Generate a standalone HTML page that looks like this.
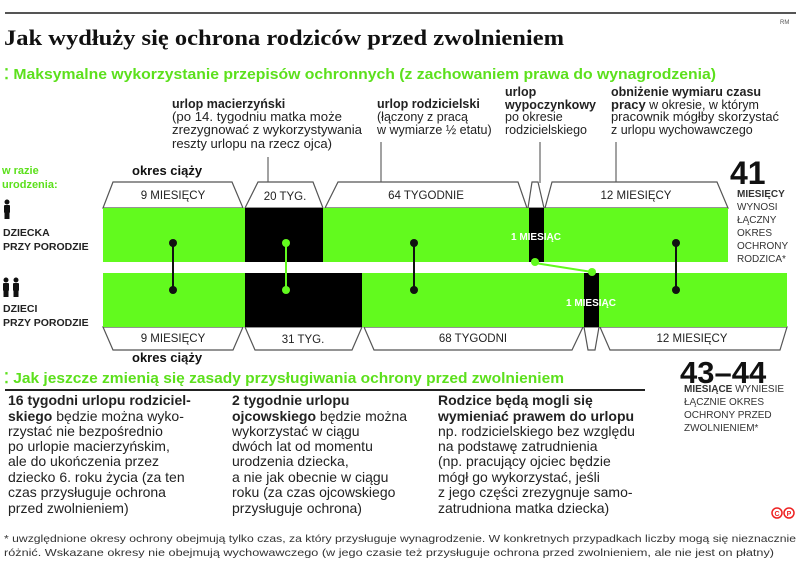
<!DOCTYPE html>
<html><head><meta charset="utf-8"><style>
html,body{margin:0;padding:0;background:#fff;}
svg{display:block;}
text{font-family:"Liberation Sans Narrow","Liberation Sans",sans-serif;}
.s{font-family:"Liberation Serif",serif;}
.b{font-weight:bold;}
.g{fill:#5ce01c;}
.lbl{font-size:12.5px;fill:#222;}
.box{fill:#fff;stroke:#555;stroke-width:1.2;}
.bt{font-size:11.5px;fill:#222;text-anchor:middle;font-family:"Liberation Sans",sans-serif;}
.col{font-size:14px;fill:#222;}
</style></head><body>
<svg width="805" height="567" viewBox="0 0 805 567" xmlns="http://www.w3.org/2000/svg">
<rect x="5" y="12" width="791" height="2" fill="#555"/>
<text x="780" y="24" font-size="6" fill="#555">RM</text>
<text x="4" y="45" class="s b" font-size="22" fill="#111" textLength="560" lengthAdjust="spacingAndGlyphs">Jak wydłuży się ochrona rodziców przed zwolnieniem</text>
<text x="4" y="79" class="b g" font-size="14.5" textLength="712" lengthAdjust="spacingAndGlyphs">⁚ Maksymalne wykorzystanie przepisów ochronnych (z zachowaniem prawa do wynagrodzenia)</text>

<text x="172" y="108" class="lbl b" font-size="13">urlop macierzyński</text>
<text x="172" y="121" class="lbl" textLength="170" lengthAdjust="spacingAndGlyphs">(po 14. tygodniu matka może</text>
<text x="172" y="134" class="lbl" textLength="190" lengthAdjust="spacingAndGlyphs">zrezygnować z wykorzystywania</text>
<text x="172" y="148" class="lbl" textLength="160" lengthAdjust="spacingAndGlyphs">reszty urlopu na rzecz ojca)</text>
<text x="377" y="108" class="lbl b" font-size="13">urlop rodzicielski</text>
<text x="377" y="121" class="lbl">(łączony z pracą</text>
<text x="377" y="134" class="lbl">w wymiarze ½ etatu)</text>
<text x="505" y="96" class="lbl b" font-size="13">urlop</text>
<text x="505" y="109" class="lbl b" font-size="13">wypoczynkowy</text>
<text x="505" y="121" class="lbl">po okresie</text>
<text x="505" y="134" class="lbl">rodzicielskiego</text>
<text x="611" y="96" class="lbl b" font-size="13">obniżenie wymiaru czasu</text>
<text x="611" y="109" class="lbl"><tspan class="b" font-size="13">pracy</tspan> w okresie, w którym</text>
<text x="611" y="121" class="lbl" textLength="168" lengthAdjust="spacingAndGlyphs">pracownik mógłby skorzystać</text>
<text x="611" y="134" class="lbl">z urlopu wychowawczego</text>
<g stroke="#444" stroke-width="1">
<line x1="268" y1="157" x2="268" y2="183"/>
<line x1="381" y1="142" x2="381" y2="183"/>
<line x1="540" y1="142" x2="540" y2="183"/>
<line x1="616" y1="142" x2="616" y2="183"/>
</g>

<text x="2" y="174" class="b g" font-size="11">w razie</text>
<text x="2" y="188" class="b g" font-size="11">urodzenia:</text>
<text x="132" y="175" class="b" font-size="13" fill="#111">okres ciąży</text>
<text x="132" y="362" class="b" font-size="13" fill="#111">okres ciąży</text>
<g fill="#111">
<circle cx="7" cy="202" r="2.5"/><rect x="4" y="205" width="6" height="8" rx="1"/><rect x="4.5" y="212" width="5" height="7"/>
<circle cx="6" cy="280" r="2.5"/><rect x="3" y="283" width="6" height="8" rx="1"/><rect x="3.5" y="290" width="5" height="7"/>
<circle cx="16" cy="280" r="2.5"/><rect x="13" y="283" width="6" height="8" rx="1"/><rect x="13.5" y="290" width="5" height="7"/>
</g>
<text x="3" y="236" class="b" font-size="10.5" fill="#222" font-family="Liberation Sans">DZIECKA</text>
<text x="3" y="250" class="b" font-size="10.5" fill="#222" font-family="Liberation Sans">PRZY PORODZIE</text>
<text x="3" y="312" class="b" font-size="10.5" fill="#222" font-family="Liberation Sans">DZIECI</text>
<text x="3" y="326" class="b" font-size="10.5" fill="#222" font-family="Liberation Sans">PRZY PORODZIE</text>

<polygon class="box" points="103,208 113,182 232,182 243,208"/>
<polygon class="box" points="245,208 258,182 313,182 323,208"/>
<polygon class="box" points="325,208 338,182 518,182 527,208"/>
<polygon class="box" points="528,208 532,182 538,182 544,208"/>
<polygon class="box" points="545,208 552,182 717,182 728,208"/>
<text x="173" y="199" class="bt">9 MIESIĘCY</text>
<text x="285" y="200" class="bt">20 TYG.</text>
<text x="426" y="199" class="bt">64 TYGODNIE</text>
<text x="636" y="199" class="bt">12 MIESIĘCY</text>
<polygon class="box" points="103,327 113,350 233,350 243,327"/>
<polygon class="box" points="245,327 255,350 352,350 362,327"/>
<polygon class="box" points="364,327 374,350 572,350 583,327"/>
<polygon class="box" points="584,327 588,350 595,350 599,327"/>
<polygon class="box" points="600,327 610,350 780,350 787,327"/>
<text x="173" y="342" class="bt">9 MIESIĘCY</text>
<text x="303" y="343" class="bt">31 TYG.</text>
<text x="473" y="342" class="bt">68 TYGODNI</text>
<text x="692" y="342" class="bt">12 MIESIĘCY</text>

<rect x="103" y="208" width="625" height="54" fill="#62fa1e"/>
<rect x="103" y="273" width="684" height="54" fill="#62fa1e"/>
<rect x="245" y="208" width="78" height="54" fill="#000"/>
<rect x="245" y="273" width="117" height="54" fill="#000"/>
<rect x="529" y="208" width="15" height="54" fill="#000"/>
<rect x="584" y="273" width="15" height="54" fill="#000"/>
<text x="536" y="240" font-size="10" fill="#fff" text-anchor="middle" class="b" font-family="Liberation Sans">1 MIESIĄC</text>
<text x="591" y="306" font-size="10" fill="#fff" text-anchor="middle" class="b" font-family="Liberation Sans">1 MIESIĄC</text>
<g stroke-width="2">
<line x1="173" y1="243" x2="173" y2="290" stroke="#111"/>
<line x1="286" y1="243" x2="286" y2="290" stroke="#62fa1e"/>
<line x1="414" y1="243" x2="414" y2="290" stroke="#111"/>
<line x1="676" y1="243" x2="676" y2="290" stroke="#111"/>
<line x1="535" y1="263" x2="592" y2="272" stroke="#62fa1e"/>
</g>
<g fill="#111">
<circle cx="173" cy="243" r="4"/><circle cx="173" cy="290" r="4"/>
<circle cx="414" cy="243" r="4"/><circle cx="414" cy="290" r="4"/>
<circle cx="676" cy="243" r="4"/><circle cx="676" cy="290" r="4"/>
</g>
<g fill="#62fa1e">
<circle cx="286" cy="243" r="4"/><circle cx="286" cy="290" r="4"/>
<circle cx="535" cy="262" r="4"/><circle cx="592" cy="272" r="4"/>
</g>

<text x="730" y="184" class="b" font-size="32" fill="#111" font-family="Liberation Sans">41</text>
<g font-size="10" fill="#333" font-family="Liberation Sans">
<text x="737" y="197" class="b">MIESIĘCY</text>
<text x="737" y="210">WYNOSI</text>
<text x="737" y="223">ŁĄCZNY</text>
<text x="737" y="236">OKRES</text>
<text x="737" y="249">OCHRONY</text>
<text x="737" y="262">RODZICA*</text>
<text x="684" y="392"><tspan class="b">MIESIĄCE</tspan> WYNIESIE</text>
<text x="684" y="405">ŁĄCZNIE OKRES</text>
<text x="684" y="418">OCHRONY PRZED</text>
<text x="684" y="431">ZWOLNIENIEM*</text>
</g>
<text x="680" y="383" class="b" font-size="31" fill="#111" font-family="Liberation Sans">43–44</text>

<text x="4" y="383" class="b g" font-size="14.5" textLength="560" lengthAdjust="spacingAndGlyphs">⁚ Jak jeszcze zmienią się zasady przysługiwania ochrony przed zwolnieniem</text>
<rect x="5" y="389" width="640" height="2" fill="#222"/>
<g class="col">
<text x="8" y="405" class="b">16 tygodni urlopu rodziciel-</text>
<text x="8" y="421"><tspan class="b">skiego</tspan> będzie można wyko-</text>
<text x="8" y="436">rzystać nie bezpośrednio</text>
<text x="8" y="451">po urlopie macierzyńskim,</text>
<text x="8" y="466">ale do ukończenia przez</text>
<text x="8" y="482">dziecko 6. roku życia (za ten</text>
<text x="8" y="497">czas przysługuje ochrona</text>
<text x="8" y="513">przed zwolnieniem)</text>
<text x="232" y="405" class="b">2 tygodnie urlopu</text>
<text x="232" y="421"><tspan class="b">ojcowskiego</tspan> będzie można</text>
<text x="232" y="436">wykorzystać w ciągu</text>
<text x="232" y="451">dwóch lat od momentu</text>
<text x="232" y="466">urodzenia dziecka,</text>
<text x="232" y="482">a nie jak obecnie w ciągu</text>
<text x="232" y="497">roku (za czas ojcowskiego</text>
<text x="232" y="513">przysługuje ochrona)</text>
<text x="438" y="405" class="b">Rodzice będą mogli się</text>
<text x="438" y="421" class="b">wymieniać prawem do urlopu</text>
<text x="438" y="436">np. rodzicielskiego bez względu</text>
<text x="438" y="451">na podstawę zatrudnienia</text>
<text x="438" y="466">(np. pracujący ojciec będzie</text>
<text x="438" y="482">mógł go wykorzystać, jeśli</text>
<text x="438" y="497">z jego części zrezygnuje samo-</text>
<text x="438" y="513">zatrudniona matka dziecka)</text>
</g>
<g fill="none" stroke="#e22" stroke-width="1.5">
<circle cx="777" cy="513" r="5"/><circle cx="789" cy="513" r="5"/>
</g>
<text x="777" y="516" font-size="7" fill="#e22" text-anchor="middle" font-family="Liberation Sans" class="b">C</text>
<text x="789" y="516" font-size="7" fill="#e22" text-anchor="middle" font-family="Liberation Sans" class="b">P</text>
<g font-size="10.5" fill="#333">
<text x="4" y="542" textLength="792" lengthAdjust="spacingAndGlyphs">* uwzględnione okresy ochrony obejmują tylko czas, za który przysługuje wynagrodzenie. W konkretnych przypadkach liczby mogą się nieznacznie</text>
<text x="4" y="556" textLength="770" lengthAdjust="spacingAndGlyphs">różnić. Wskazane okresy nie obejmują wychowawczego (w jego czasie też przysługuje ochrona przed zwolnieniem, ale nie jest on płatny)</text>
</g>
</svg>
</body></html>
